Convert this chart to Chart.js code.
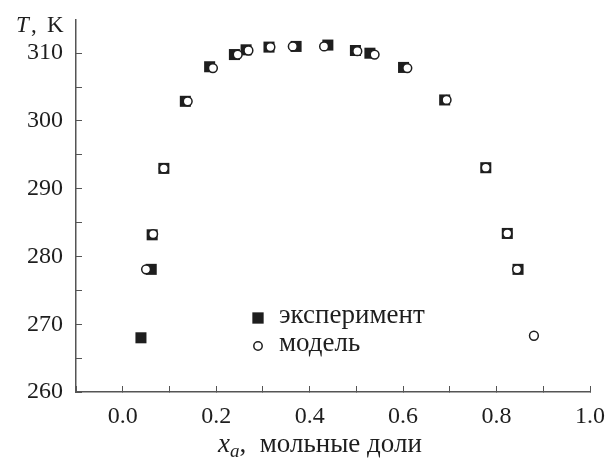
<!DOCTYPE html>
<html>
<head>
<meta charset="utf-8">
<script src="https://cdn.jsdelivr.net/npm/chart.js@4/dist/chart.umd.min.js"></script>
<style>
  body { margin: 0; background: #fff; }
</style>
</head>
<body>
<canvas id="chart" width="612" height="459"></canvas>
<script>
// data
const expX = [0.039, 0.061, 0.063, 0.088, 0.134, 0.186, 0.239, 0.264, 0.313, 0.371, 0.439, 0.498, 0.529, 0.601, 0.689, 0.777, 0.823, 0.846];
const expT = [268.0, 278.1, 283.2, 293.0, 302.9, 308.0, 309.8, 310.5, 310.9, 311.0, 311.2, 310.4, 310.0, 307.9, 303.1, 293.1, 283.4, 278.1];
const modX = [0.050, 0.065, 0.088, 0.139, 0.193, 0.246, 0.269, 0.316, 0.364, 0.431, 0.502, 0.539, 0.609, 0.693, 0.777, 0.823, 0.844, 0.880];
const modT = [278.1, 283.3, 293.0, 302.9, 307.8, 309.8, 310.4, 310.9, 311.0, 311.0, 310.3, 309.8, 307.8, 303.1, 293.1, 283.4, 278.1, 268.3];
const seriesNames = ["эксперимент", "модель"];
const xLabelTicks = [0.0, 0.2, 0.4, 0.6, 0.8, 1.0];
const yLabelTicks = [260, 270, 280, 290, 300, 310];

const serif = "'Liberation Serif', serif";
const axisColor = "#555";
const ink = "#1e1e1e";

function toPoints(xs, ys) {
  return xs.map((x, i) => ({ x: x, y: ys[i] }));
}

// the ticks' own label overhang would shift the plot area, drop it
function noOverhang(scale) {
  scale.paddingTop = 0;
  scale.paddingBottom = 0;
  scale.paddingLeft = 0;
  scale.paddingRight = 0;
}

//axis titles + legend drawn by hand
const extras = {
  id: "extras",
  afterDraw(chart) {
    const ctx = chart.ctx;
    ctx.save();
    ctx.fillStyle = ink;
    ctx.textBaseline = "alphabetic";
    ctx.textAlign = "left";

    // T, K
    ctx.font = "italic 23px " + serif;
    ctx.fillText("T", 16, 32);
    ctx.font = "23px " + serif;
    ctx.fillText(",", 31, 32);
    ctx.fillText("K", 47, 32);

    // x_a, мольные доли
    ctx.font = "italic 27px " + serif;
    ctx.fillText("x", 218, 452);
    let w = ctx.measureText("x").width;
    ctx.font = "italic 19px " + serif;
    ctx.fillText("a", 218 + w, 457);
    w += ctx.measureText("a").width;
    ctx.font = "27px " + serif;
    ctx.fillText(",  мольные доли", 218 + w, 452);

    // legend
    const rows = [
      { ds: chart.data.datasets[0], y: 318, size: 8 },
      { ds: chart.data.datasets[1], y: 346, size: 4.2 },
    ];
    ctx.font = "27px " + serif;
    rows.forEach((r, i) => {
      ctx.fillStyle = r.ds.pointBackgroundColor;
      ctx.strokeStyle = r.ds.pointBorderColor;
      ctx.lineWidth = r.ds.pointBorderWidth;
      Chart.helpers.drawPoint(ctx, { pointStyle: r.ds.pointStyle, radius: r.size, rotation: 0, borderWidth: r.ds.pointBorderWidth }, 258, r.y);
      ctx.fillStyle = ink;
      ctx.fillText(seriesNames[i], 279, r.y + 5);
    });
    ctx.restore();
  },
};

function draw() {
  const ctx = document.getElementById("chart").getContext("2d");
  new Chart(ctx, {
    type: "scatter",
    data: {
      datasets: [
        {
          label: seriesNames[0],
          data: toPoints(expX, expT),
          pointStyle: "rect",
          pointRadius: 7.8,
          pointBackgroundColor: ink,
          pointBorderColor: ink,
          pointBorderWidth: 0,
          order: 2,
        },
        {
          label: seriesNames[1],
          data: toPoints(modX, modT),
          pointStyle: "circle",
          pointRadius: 4.4,
          pointBackgroundColor: "#fff",
          pointBorderColor: ink,
          pointBorderWidth: 1.5,
          order: 1,
        },
      ],
    },
    options: {
      responsive: false,
      animation: false,
      layout: { padding: { left: 0, right: 22, top: 20, bottom: 0 } },
      plugins: {
        legend: { display: false },
        tooltip: { enabled: false },
      },
      scales: {
        x: {
          type: "linear",
          min: -0.1,
          max: 1.0,
          afterFit: (scale) => { scale.height = 67; noOverhang(scale); },
          border: { color: axisColor, width: 1.5 },
          grid: { drawOnChartArea: false, color: axisColor, tickLength: -6, tickWidth: 1 },
          ticks: {
            stepSize: 0.1,
            padding: 16,
            color: ink,
            font: { family: serif, size: 24 },
            callback: (v) => {
              const hit = xLabelTicks.find((t) => Math.abs(t - v) < 1e-6);
              return hit === undefined ? "" : hit.toFixed(1);
            },
          },
        },
        y: {
          type: "linear",
          min: 260,
          max: 314.9,
          afterFit: (scale) => { scale.width = 76; noOverhang(scale); },
          border: { color: axisColor, width: 1.5 },
          grid: { drawOnChartArea: false, color: axisColor, tickLength: -6, tickWidth: 1 },
          ticks: {
            stepSize: 5,
            includeBounds: false,
            padding: 19,
            color: ink,
            font: { family: serif, size: 24 },
            callback: (v) => (yLabelTicks.includes(v) ? String(v) : ""),
          },
        },
      },
    },
    plugins: [extras],
  });
}

Promise.all([
  document.fonts.load("24px 'Liberation Serif'"),
  document.fonts.load("italic 24px 'Liberation Serif'"),
]).then(draw, draw);
</script>
</body>
</html>
